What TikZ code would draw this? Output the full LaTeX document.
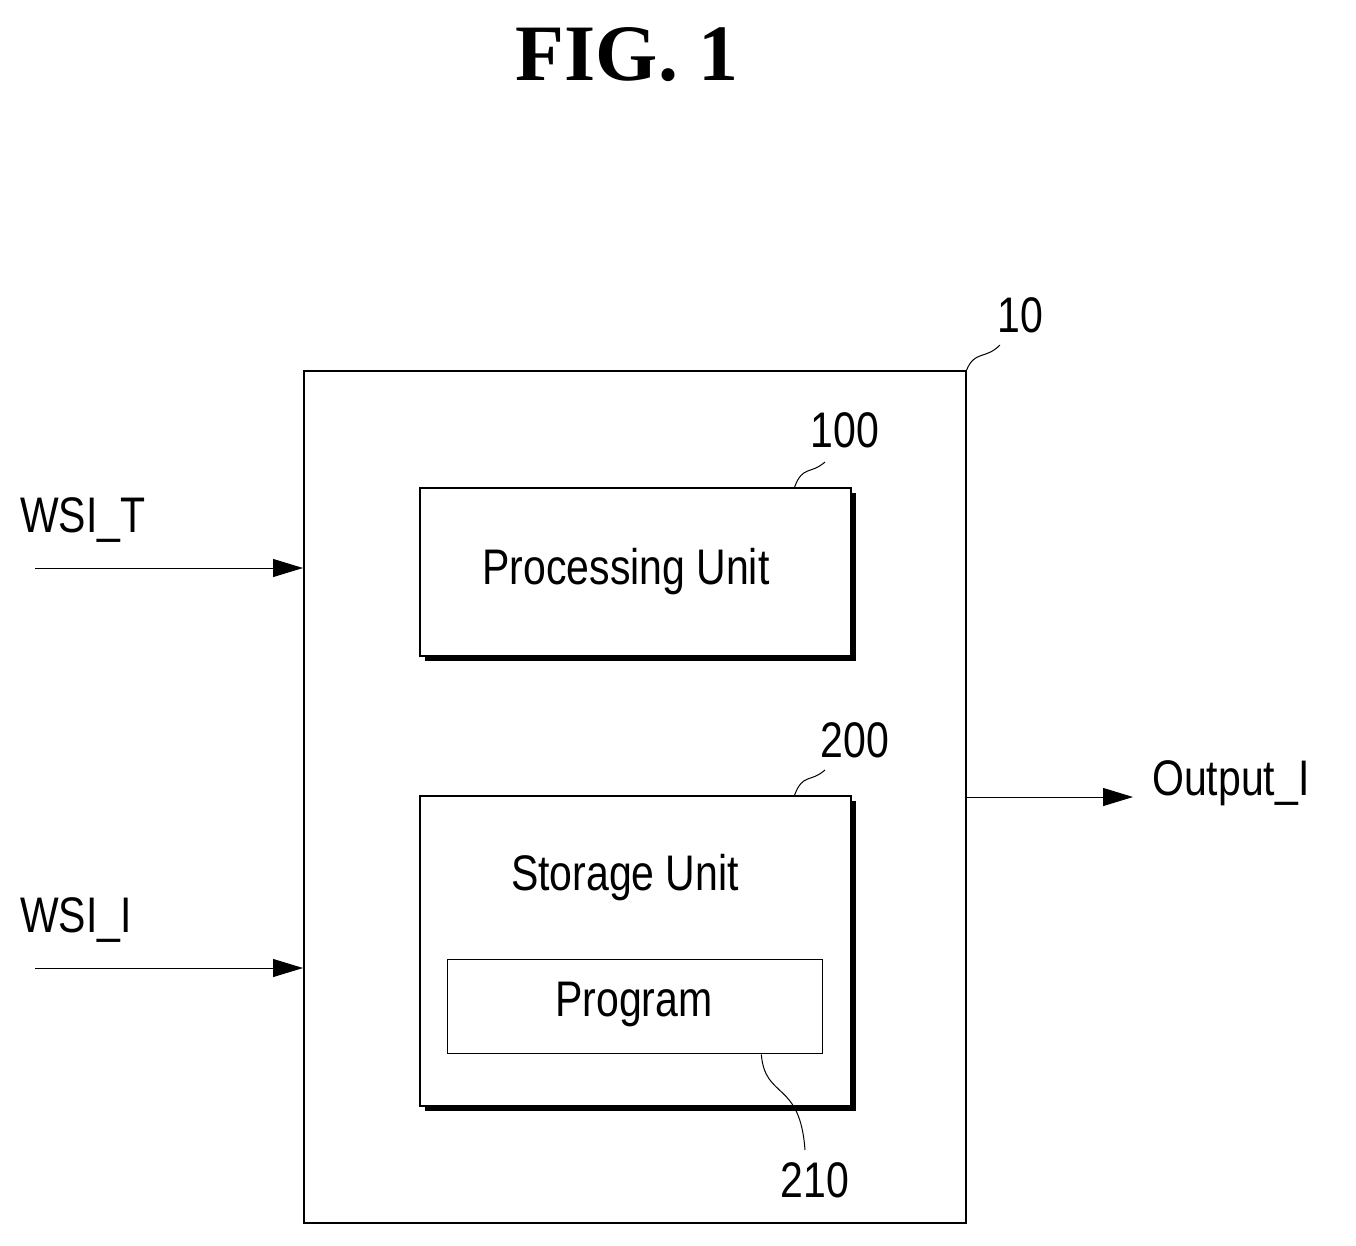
\documentclass[tikz,border=0pt]{standalone}
\usepackage{fontspec}
\setmainfont{Liberation Sans}[FakeStretch=0.82]
\newfontfamily\titlefont{Liberation Serif}
\usetikzlibrary{arrows.meta}
\begin{document}
\begin{tikzpicture}[x=1pt,y=-1pt,
 lbl/.style={inner sep=0pt,font=\fontsize{50}{56}\selectfont},
 box/.style={draw,line width=1.6pt,fill=white},
 shadowbox/.style={fill=black},
 arr/.style={-{Triangle[length=30pt,width=18pt]},line width=1pt},
 lead/.style={line width=1pt}]
\useasboundingbox (0,0) rectangle (1356,1245);
\node[font=\titlefont\bfseries\fontsize{80}{90}\selectfont] (title) at (627,55) {FIG. 1};
\node[box,minimum width=662pt,minimum height=852pt,anchor=north west] (outer) at (303,370) {};
% processing
\fill[shadowbox] (425,493) rectangle (856,661);
\node[box,minimum width=431pt,minimum height=168pt,anchor=north west] (proc) at (419,487) {};
\node[lbl] (proct) at (626,572) {Processing Unit};
% storage
\fill[shadowbox] (425,801) rectangle (856,1111);
\node[box,minimum width=431pt,minimum height=310pt,anchor=north west] (stor) at (419,795) {};
\node[lbl] (stort) at (625,878) {Storage Unit};
\node[draw,line width=1.3pt,minimum width=375pt,minimum height=94pt,anchor=north west] (prog) at (447,959) {};
\node[lbl] (progt) at (634,1004) {Program};
% inputs
\coordinate (wt) at (35,568); \coordinate (wi) at (35,968);
\node[lbl,anchor=west] (wtl) at (20,520) {WSI\_T};
\node[lbl,anchor=west] (wil) at (20,920) {WSI\_I};
\draw[arr] (wt) -- (wt -| outer.west);
\draw[arr] (wi) -- (wi -| outer.west);
\coordinate (oe) at (965,797); \coordinate (oo) at (1133,797);
\draw[arr] (oe) -- (oo);
\node[lbl,anchor=west] (outl) at (1152,783) {Output\_I};
% reference labels
\node[lbl] (n10) at (1020,315) {10};
\node[lbl] (n100) at (845,430) {100};
\node[lbl] (n200) at (855,740) {200};
\node[lbl] (n210) at (815,1180) {210};
\draw[lead] (outer.north east) .. controls (975,350) and (985,360) .. (1000,345);
\draw[lead] (proc.north east) ++(-57,0) .. controls (803,465) and (810,475) .. (825,462);
\draw[lead] (stor.north east) ++(-57,0) .. controls (803,773) and (810,783) .. (825,770);
\draw[lead] (prog.south east) ++(-62,0) .. controls (765,1100) and (800,1080) .. (805,1150);
\end{tikzpicture}
\end{document}
